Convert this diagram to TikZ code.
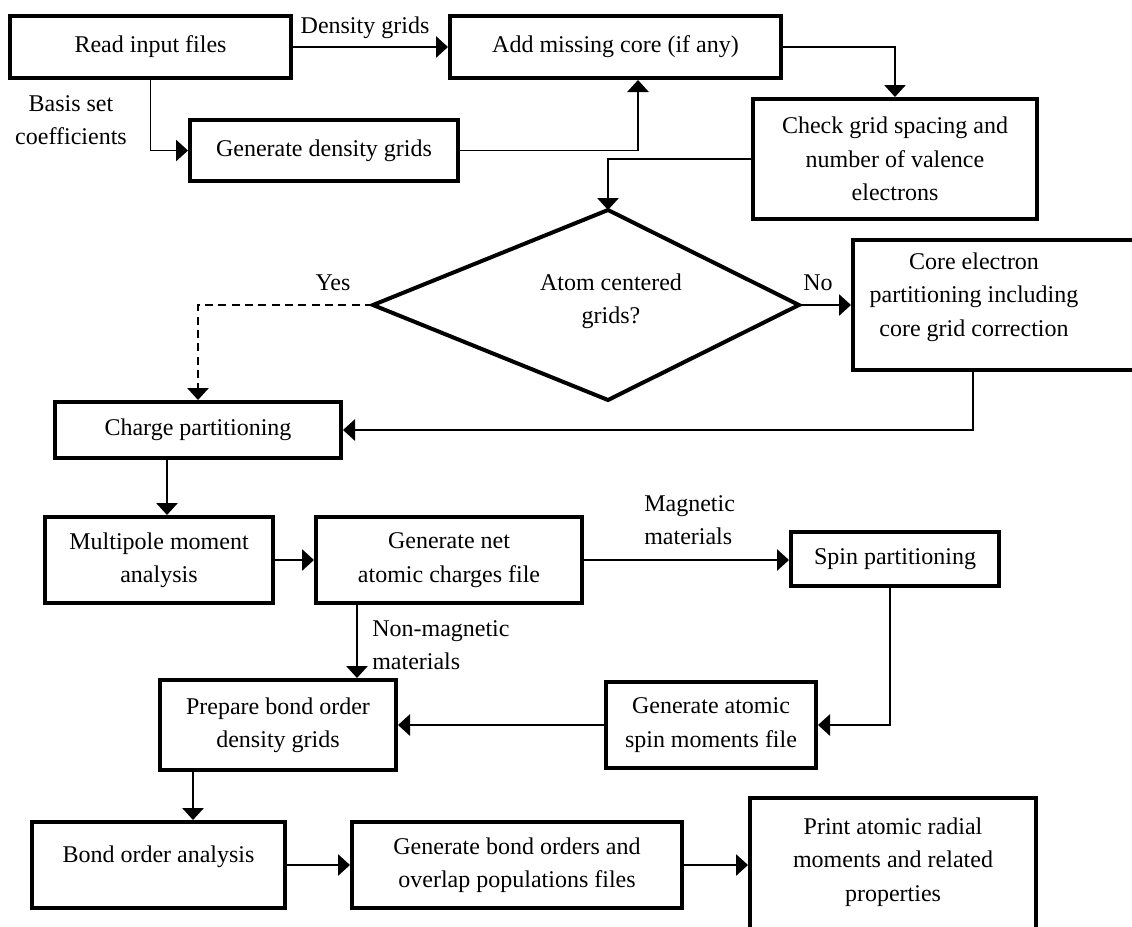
\documentclass[tikz,border=0pt]{standalone}
\usepackage{fontspec}
\setmainfont{Liberation Serif}
\usetikzlibrary{arrows.meta}
\begin{document}
\begin{tikzpicture}[x=0.75pt,y=-0.75pt,
  box/.style={draw, line width=3pt, inner sep=0pt, align=center, font=\fontsize{18}{25}\selectfont},
  lbl/.style={inner sep=0pt, align=center, font=\fontsize{18}{25}\selectfont},
  arr/.style={line width=1.4pt, -{Triangle[length=9pt,width=16pt]}},
  dsh/.style={dash pattern=on 6pt off 4pt}]
\useasboundingbox (0,0) rectangle (1132,926);
\clip (0,0) rectangle (1132,926);
\fill[white] (0,0) rectangle (1132,926);
% guide coordinates
\coordinate (g638) at (638,0);
\coordinate (g973) at (973,0);
\coordinate (g167) at (167,0);
\coordinate (g357) at (357,0);
\coordinate (g890) at (890,0);
\coordinate (g193) at (193,0);
% boxes
\node[box, minimum width=281*0.75pt, minimum height=62*0.75pt] (read) at (150.5,47) {Read input files};
\node[box, minimum width=331*0.75pt, minimum height=62*0.75pt] (add) at (615.5,47) {Add missing core (if any)};
\node[box, minimum width=268*0.75pt, minimum height=61*0.75pt] (gen) at (324,150.5) {Generate density grids};
\node[box, minimum width=284*0.75pt, minimum height=120*0.75pt] (check) at (895,159) {Check grid spacing and\\number of valence\\electrons};
% diamond
\coordinate (dT) at (608,210);
\coordinate (dR) at (799,305);
\coordinate (dB) at (608,400);
\coordinate (dL) at (373,305);
\draw[line width=3pt, line join=miter] (dT) -- (dR) -- (dB) -- (dL) -- cycle;
\node[lbl] (dia) at (611,301) {Atom centered\\grids?};
\node[box, minimum width=289*0.75pt, minimum height=130*0.75pt] (core) at (997.5,305) {};
\node[lbl] (coretxt) at (974,297) {Core electron\\partitioning including\\core grid correction};
\node[box, minimum width=286*0.75pt, minimum height=56*0.75pt] (charge) at (198,430) {Charge partitioning};
\node[box, minimum width=228*0.75pt, minimum height=86*0.75pt] (multi) at (159,560) {Multipole moment\\analysis};
\node[box, minimum width=266*0.75pt, minimum height=86*0.75pt] (net) at (449,560) {Generate net\\atomic charges file};
\node[box, minimum width=208*0.75pt, minimum height=54*0.75pt] (spin) at (895,559) {Spin partitioning};
\node[box, minimum width=210*0.75pt, minimum height=86*0.75pt] (atspin) at (711,725) {Generate atomic\\spin moments file};
\node[box, minimum width=236*0.75pt, minimum height=90*0.75pt] (prep) at (278,725) {Prepare bond order\\density grids};
\node[box, minimum width=253*0.75pt, minimum height=86*0.75pt] (bond) at (158.5,865) {};
\node[lbl] (bondtxt) at (158.5,857) {Bond order analysis};
\node[box, minimum width=330*0.75pt, minimum height=86*0.75pt] (genbo) at (517,865) {Generate bond orders and\\overlap populations files};
\node[box, minimum width=286*0.75pt, minimum height=140*0.75pt] (print) at (893,868) {};
\node[lbl] (printtxt) at (893,862) {Print atomic radial\\moments and related\\properties};
% labels
\node[lbl] (ldens) at (365,28) {Density grids};
\node[lbl] (lbasis) at (71,120) {Basis set\\coefficients};
\node[lbl] (lyes) at (333,283) {Yes};
\node[lbl] (lno) at (818,283) {No};
\node[lbl, anchor=west, align=left] (lmag) at (644,520) {Magnetic\\materials};
\node[lbl, anchor=west, align=left] (lnonmag) at (372,645) {Non-magnetic\\materials};
% connectors
\draw[arr] (read.east) -- (add.west);
\draw[arr] (read.south) |- (gen.west);
\draw[arr] (gen.east) -| (add.south -| g638);
\draw[arr] (add.east) -| (check.north);
\draw[arr] (check.west) -| (dT);
\draw[arr, dsh] (dL) -| (charge.north);
\draw[arr] (dR) -- (core.west);
\draw[arr] (core.south -| g973) |- (charge.east);
\draw[arr] (charge.south -| g167) -- (multi.north -| g167);
\draw[arr] (multi.east) -- (net.west);
\draw[arr] (net.east) -- (net.east -| spin.west);
\draw[arr] (net.south -| g357) -- (prep.north -| g357);
\draw[arr] (spin.south -| g890) |- (atspin.east);
\draw[arr] (atspin.west) -- (prep.east);
\draw[arr] (prep.south -| g193) -- (bond.north -| g193);
\draw[arr] (bond.east) -- (genbo.west);
\draw[arr] (genbo.east) -- (genbo.east -| print.west);
\end{tikzpicture}
\end{document}
